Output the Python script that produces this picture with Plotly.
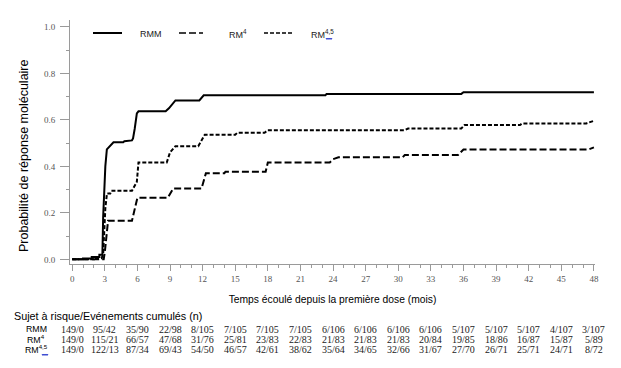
import plotly.graph_objects as go

# ---------------- data ----------------
rmm_t = [0, 1.0, 1.0, 1.8, 1.8, 2.5, 2.5, 2.78, 2.85, 3.05, 3.19, 3.5, 3.8, 4.7, 4.8, 5.5, 5.6, 5.75, 5.95, 6.1,
         8.6, 8.9, 9.2, 9.5, 11.7, 12.1, 23.3, 23.4, 35.8, 36.0, 48]
rmm_p = [0, 0, 0.004, 0.004, 0.01, 0.01, 0.02, 0.02, 0.18, 0.40, 0.473, 0.49, 0.504, 0.504, 0.508, 0.512, 0.52, 0.561, 0.628, 0.637,
         0.637, 0.65, 0.665, 0.684, 0.684, 0.706, 0.706, 0.712, 0.712, 0.719, 0.719]

# upper dashed curve (short dashes in the picture)
upper_t = [0, 2.0, 2.0, 2.7, 2.85, 2.95, 3.05, 3.2, 3.5, 3.6, 5.5, 5.95, 6.1, 8.7, 9.0, 9.5, 11.6, 12.2, 15.0, 15.2,
           17.7, 18.0, 30.6, 30.9, 35.8, 36.1, 41.2, 41.4, 47.3, 48]
upper_p = [0, 0, 0.005, 0.005, 0.02, 0.10, 0.22, 0.283, 0.283, 0.295, 0.295, 0.334, 0.417, 0.417, 0.46, 0.487, 0.487, 0.536, 0.536, 0.545,
           0.545, 0.556, 0.556, 0.563, 0.563, 0.578, 0.578, 0.585, 0.585, 0.596]

# lower dashed curve (long dashes in the picture)
lower_t = [0, 2.9, 3.0, 3.1, 3.2, 3.3, 5.5, 5.8, 6.0, 8.8, 9.3, 11.9, 12.3, 14.0, 14.1, 17.8, 18.0, 23.7, 24.0, 24.5,
           30.4, 30.6, 35.5, 36.0, 47.5, 48]
lower_p = [0, 0, 0.03, 0.07, 0.12, 0.166, 0.166, 0.23, 0.265, 0.265, 0.305, 0.305, 0.37, 0.37, 0.377, 0.377, 0.417, 0.417, 0.431, 0.439,
           0.439, 0.449, 0.449, 0.473, 0.473, 0.482]

table_months = [0, 3, 6, 9, 12, 15, 18, 21, 24, 27, 30, 33, 36, 39, 42, 45, 48]
rmm_risk = ["149/0", "95/42", "35/90", "22/98", "8/105", "7/105", "7/105", "7/105", "6/106", "6/106", "6/106",
            "6/106", "5/107", "5/107", "5/107", "4/107", "3/107"]
rm4_risk = ["149/0", "115/21", "66/57", "47/68", "31/76", "25/81", "23/83", "22/83", "21/83", "21/83", "21/83",
            "20/84", "19/85", "18/86", "16/87", "15/87", "5/89"]
rm45_risk = ["149/0", "122/13", "87/34", "69/43", "54/50", "46/57", "42/61", "38/62", "35/64", "34/65", "32/66",
             "31/67", "27/70", "26/71", "25/71", "24/71", "8/72"]

series_names = ["RMM", "RM<sup>4</sup>", "RM<sup>4,5</sup>"]
x_ticks = list(range(0, 49, 3))
y_ticks = [0.0, 0.2, 0.4, 0.6, 0.8, 1.0]

# ---------------- layout helpers ----------------
W, H = 621, 368
ML, MR, MT, MB = 70, 26, 20, 104
PW, PH = W - ML - MR, H - MT - MB


def px(xp):
    return (xp - ML) / PW


def py(yp):
    return (H - MB - yp) / PH


dash_rmm, dash_rm4, dash_rm45 = "solid", "7px,3px", "4px,2px"

fig = go.Figure()
for t, p, d, n in [(rmm_t, rmm_p, dash_rmm, series_names[0]),
                   (lower_t, lower_p, dash_rm4, series_names[1]),
                   (upper_t, upper_p, dash_rm45, series_names[2])]:
    fig.add_trace(go.Scatter(x=t, y=p, mode="lines", name=n,
                             line=dict(color="black", width=2, dash=d),
                             showlegend=False, hoverinfo="skip"))

axis_col = "#9a9a9a"
serif = "Liberation Serif, Times New Roman, serif"
sans = "Liberation Sans, Arial, sans-serif"
tick_font = dict(family=serif, size=9, color="#555")

fig.update_xaxes(range=[-0.2, 48.1], tickmode="array", tickvals=x_ticks, ticktext=[str(v) for v in x_ticks],
                 showline=True, linecolor=axis_col, linewidth=1, ticks="outside", ticklen=6, tickcolor=axis_col,
                 minor=dict(dtick=1, ticks="outside", ticklen=3, tickcolor=axis_col),
                 showgrid=False, zeroline=False, tickfont=tick_font,
                 title=dict(text="Temps écoulé depuis la première dose (mois)",
                            font=dict(family=sans, size=10.3, color="black"), standoff=12))
fig.update_yaxes(range=[-0.02, 1.03], tickmode="array", tickvals=y_ticks, ticktext=["%.1f" % v for v in y_ticks],
                 showline=True, linecolor=axis_col, linewidth=1, ticks="outside", ticklen=9, tickcolor=axis_col,
                 ticklabelstandoff=3,
                 minor=dict(dtick=0.1, ticks="outside", ticklen=3, tickcolor=axis_col),
                 showgrid=False, zeroline=False, tickfont=tick_font)

annotations = []
shapes = []

# y-axis title (placed as in the picture, slightly below the plot centre)
annotations.append(dict(xref="paper", yref="paper", x=px(24), y=py(156), text="Probabilité de réponse moléculaire",
                        textangle=-90, showarrow=False, xanchor="center", yanchor="middle",
                        font=dict(family=sans, size=12.5, color="black")))

# legend (manual)
leg_y = py(33)
leg_items = [(93, 122, 138, dash_rmm), (179, 203, 227, dash_rm4), (264, 292, 309, dash_rm45)]
for (x0, x1, xt, d), n in zip(leg_items, series_names):
    shapes.append(dict(type="line", xref="paper", yref="paper", x0=px(x0), x1=px(x1), y0=leg_y, y1=leg_y,
                       line=dict(color="black", width=2 if d == "solid" else 1.6, dash=d)))
    annotations.append(dict(xref="paper", yref="paper", x=px(xt), y=py(34), text=n, showarrow=False,
                            xanchor="left", yanchor="middle",
                            font=dict(family=sans, size=9, color="#222")))


def squiggle(x0, y0, n=3, w=2.0, h=1.5):
    d = "M %f,%f" % (px(x0), py(y0))
    for i in range(n):
        d += " L %f,%f L %f,%f" % (px(x0 + w * (2 * i + 1) / 2), py(y0 + h), px(x0 + w * (i + 1)), py(y0))
    return dict(type="path", xref="paper", yref="paper", path=d, line=dict(color="#2233cc", width=1))


shapes.append(squiggle(326, 38))

# at-risk table
annotations.append(dict(xref="paper", yref="paper", x=px(12), y=py(316), text="Sujet à risque/Evénements cumulés (n)",
                        showarrow=False, xanchor="left", yanchor="middle",
                        font=dict(family=sans, size=10.8, color="black")))
row_y = [329, 339, 349]
for rowv, yy, n in zip([rmm_risk, rm4_risk, rm45_risk], row_y, series_names):
    annotations.append(dict(xref="paper", yref="paper", x=px(36), y=py(yy), text=n, showarrow=False,
                            xanchor="center", yanchor="middle",
                            font=dict(family=sans, size=8.8, color="black")))
    for m, v in zip(table_months, rowv):
        annotations.append(dict(xref="x", yref="paper", x=m, y=py(yy), text=v, showarrow=False,
                                xanchor="center", yanchor="middle",
                                font=dict(family=serif, size=10, color="#222")))
shapes.append(squiggle(42, 354))

fig.update_layout(width=W, height=H, margin=dict(l=ML, r=MR, t=MT, b=MB),
                  paper_bgcolor="white", plot_bgcolor="white",
                  annotations=annotations, shapes=shapes, showlegend=False)

fig.write_html("out.html", config={"displayModeBar": False},
               post_script="document.body.style.margin='0';document.body.style.overflow='hidden';")
